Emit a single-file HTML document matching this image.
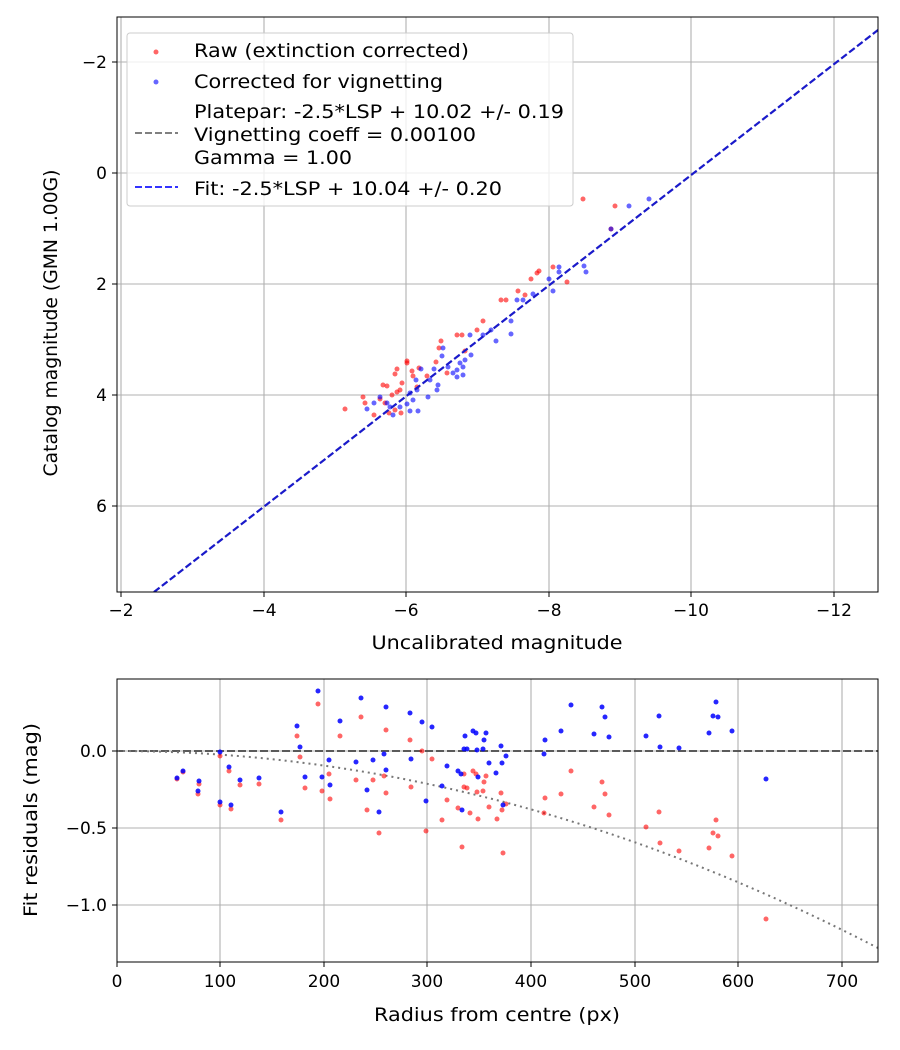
<!DOCTYPE html>
<html><head><meta charset="utf-8"><style>body{margin:0;background:#fff}svg{display:block;font-family:"DejaVu Sans","Liberation Sans",sans-serif}</style></head><body>
<svg width="900" height="1050" xmlns="http://www.w3.org/2000/svg">
<rect width="900" height="1050" fill="#fff"/>
<defs><clipPath id="c1"><rect x="117" y="17" width="761" height="575"/></clipPath><clipPath id="c2"><rect x="117" y="679" width="761" height="283"/></clipPath></defs>
<g stroke="#b0b0b0" stroke-width="1.1">
<line x1="121" y1="17" x2="121" y2="592"/><line x1="264" y1="17" x2="264" y2="592"/><line x1="406" y1="17" x2="406" y2="592"/><line x1="549" y1="17" x2="549" y2="592"/><line x1="691" y1="17" x2="691" y2="592"/><line x1="834" y1="17" x2="834" y2="592"/>
<line x1="117" y1="62" x2="878" y2="62"/><line x1="117" y1="173" x2="878" y2="173"/><line x1="117" y1="284" x2="878" y2="284"/><line x1="117" y1="395" x2="878" y2="395"/><line x1="117" y1="506" x2="878" y2="506"/>
<line x1="220" y1="679" x2="220" y2="962"/><line x1="324" y1="679" x2="324" y2="962"/><line x1="427" y1="679" x2="427" y2="962"/><line x1="531" y1="679" x2="531" y2="962"/><line x1="635" y1="679" x2="635" y2="962"/><line x1="738" y1="679" x2="738" y2="962"/><line x1="842" y1="679" x2="842" y2="962"/>
<line x1="117" y1="751" x2="878" y2="751"/><line x1="117" y1="828" x2="878" y2="828"/><line x1="117" y1="905" x2="878" y2="905"/>
</g>
<g clip-path="url(#c1)">
<g fill="#ff0000" fill-opacity="0.6">
<circle cx="553" cy="267" r="2.5"/><circle cx="539" cy="271" r="2.5"/><circle cx="537" cy="273" r="2.5"/><circle cx="531" cy="279" r="2.5"/><circle cx="525" cy="295" r="2.5"/><circle cx="518" cy="291" r="2.5"/><circle cx="506" cy="300" r="2.5"/><circle cx="501" cy="300" r="2.5"/><circle cx="483" cy="321" r="2.5"/><circle cx="477" cy="330" r="2.5"/><circle cx="462" cy="335" r="2.5"/><circle cx="457" cy="335" r="2.5"/><circle cx="441" cy="341" r="2.5"/><circle cx="439" cy="348" r="2.5"/><circle cx="465" cy="351" r="2.5"/><circle cx="436" cy="362" r="2.5"/><circle cx="407" cy="361" r="2.5"/><circle cx="407" cy="363" r="2.5"/><circle cx="397" cy="369" r="2.5"/><circle cx="395" cy="374" r="2.5"/><circle cx="412" cy="371" r="2.5"/><circle cx="419" cy="368" r="2.5"/><circle cx="413" cy="376" r="2.5"/><circle cx="427" cy="376" r="2.5"/><circle cx="402" cy="383" r="2.5"/><circle cx="383" cy="385" r="2.5"/><circle cx="387" cy="386" r="2.5"/><circle cx="400" cy="390" r="2.5"/><circle cx="397" cy="392" r="2.5"/><circle cx="392" cy="395" r="2.5"/><circle cx="363" cy="397" r="2.5"/><circle cx="365" cy="403" r="2.5"/><circle cx="345" cy="409" r="2.5"/><circle cx="374" cy="415" r="2.5"/><circle cx="385" cy="403" r="2.5"/><circle cx="395" cy="410" r="2.5"/><circle cx="401" cy="413" r="2.5"/><circle cx="389" cy="413" r="2.5"/><circle cx="380" cy="399" r="2.5"/><circle cx="417" cy="387" r="2.5"/><circle cx="447" cy="373" r="2.5"/><circle cx="583" cy="199" r="2.5"/><circle cx="615" cy="206" r="2.5"/><circle cx="611" cy="229" r="2.5"/><circle cx="567" cy="282" r="2.5"/>
</g>
<g fill="#0000ff" fill-opacity="0.6">
<circle cx="559" cy="267" r="2.5"/><circle cx="559" cy="272" r="2.5"/><circle cx="549" cy="279" r="2.5"/><circle cx="553" cy="291" r="2.5"/><circle cx="533" cy="294" r="2.5"/><circle cx="523" cy="300" r="2.5"/><circle cx="517" cy="300" r="2.5"/><circle cx="511" cy="321" r="2.5"/><circle cx="511" cy="334" r="2.5"/><circle cx="496" cy="341" r="2.5"/><circle cx="491" cy="330" r="2.5"/><circle cx="483" cy="335" r="2.5"/><circle cx="470" cy="335" r="2.5"/><circle cx="443" cy="348" r="2.5"/><circle cx="442" cy="356" r="2.5"/><circle cx="471" cy="355" r="2.5"/><circle cx="465" cy="360" r="2.5"/><circle cx="460" cy="363" r="2.5"/><circle cx="463" cy="367" r="2.5"/><circle cx="457" cy="370" r="2.5"/><circle cx="453" cy="373" r="2.5"/><circle cx="463" cy="375" r="2.5"/><circle cx="457" cy="377" r="2.5"/><circle cx="448" cy="367" r="2.5"/><circle cx="434" cy="369" r="2.5"/><circle cx="421" cy="369" r="2.5"/><circle cx="416" cy="380" r="2.5"/><circle cx="430" cy="380" r="2.5"/><circle cx="438" cy="385" r="2.5"/><circle cx="437" cy="390" r="2.5"/><circle cx="428" cy="397" r="2.5"/><circle cx="417" cy="390" r="2.5"/><circle cx="410" cy="393" r="2.5"/><circle cx="413" cy="400" r="2.5"/><circle cx="407" cy="404" r="2.5"/><circle cx="400" cy="407" r="2.5"/><circle cx="393" cy="415" r="2.5"/><circle cx="410" cy="411" r="2.5"/><circle cx="418" cy="411" r="2.5"/><circle cx="387" cy="403" r="2.5"/><circle cx="380" cy="397" r="2.5"/><circle cx="374" cy="403" r="2.5"/><circle cx="367" cy="409" r="2.5"/><circle cx="390" cy="407" r="2.5"/><circle cx="649" cy="199" r="2.5"/><circle cx="629" cy="206" r="2.5"/><circle cx="611" cy="229" r="2.5"/><circle cx="584" cy="266" r="2.5"/><circle cx="586" cy="272" r="2.5"/>
</g>
<line x1="154" y1="592" x2="878" y2="30" stroke="#808080" stroke-width="2" stroke-dasharray="7,3"/>
<line x1="154" y1="592" x2="878" y2="30" stroke="#0000dd" stroke-opacity="0.8" stroke-width="2.2" stroke-dasharray="7,3"/>
</g>
<rect x="117" y="17" width="761" height="575" fill="none" stroke="#000" stroke-width="1"/>
<rect x="127" y="33" width="446" height="173" rx="3" fill="#fff" fill-opacity="0.8" stroke="#ccc"/>
<circle cx="156" cy="52" r="2.5" fill="#ff0000" fill-opacity="0.6"/>
<circle cx="156" cy="82" r="2.5" fill="#0000ff" fill-opacity="0.6"/>
<line x1="135" y1="133" x2="178" y2="133" stroke="#808080" stroke-width="2" stroke-dasharray="7,3"/>
<line x1="135" y1="187" x2="178" y2="187" stroke="#3333ff" stroke-width="2" stroke-dasharray="7,3"/>
<g font-size="19" fill="#000" lengthAdjust="spacingAndGlyphs">
<text x="194" y="57" textLength="275" lengthAdjust="spacingAndGlyphs">Raw (extinction corrected)</text>
<text x="194" y="88" textLength="249" lengthAdjust="spacingAndGlyphs">Corrected for vignetting</text>
<text x="194" y="118" textLength="370" lengthAdjust="spacingAndGlyphs">Platepar: -2.5*LSP + 10.02 +/- 0.19</text>
<text x="194" y="141" textLength="282" lengthAdjust="spacingAndGlyphs">Vignetting coeff = 0.00100</text>
<text x="194" y="164" textLength="158" lengthAdjust="spacingAndGlyphs">Gamma = 1.00</text>
<text x="194" y="195" textLength="308" lengthAdjust="spacingAndGlyphs">Fit: -2.5*LSP + 10.04 +/- 0.20</text>
</g>
<g stroke="#000"><line x1="121" y1="592" x2="121" y2="597"/><line x1="264" y1="592" x2="264" y2="597"/><line x1="406" y1="592" x2="406" y2="597"/><line x1="549" y1="592" x2="549" y2="597"/><line x1="691" y1="592" x2="691" y2="597"/><line x1="834" y1="592" x2="834" y2="597"/>
<line x1="112" y1="62" x2="117" y2="62"/><line x1="112" y1="173" x2="117" y2="173"/><line x1="112" y1="284" x2="117" y2="284"/><line x1="112" y1="395" x2="117" y2="395"/><line x1="112" y1="506" x2="117" y2="506"/></g>
<g font-size="17" fill="#000" text-anchor="middle">
<text x="121" y="616">−2</text><text x="264" y="616">−4</text><text x="406" y="616">−6</text><text x="549" y="616">−8</text><text x="691" y="616">−10</text><text x="834" y="616">−12</text>
</g>
<g font-size="19" fill="#000" text-anchor="middle">
<text x="497" y="649" textLength="251" lengthAdjust="spacingAndGlyphs">Uncalibrated magnitude</text>
<text transform="translate(57,323) rotate(-90)" textLength="307" lengthAdjust="spacingAndGlyphs">Catalog magnitude (GMN 1.00G)</text>
</g>
<g font-size="17" fill="#000" text-anchor="end">
<text x="107" y="68">−2</text><text x="107" y="179">0</text><text x="107" y="290">2</text><text x="107" y="401">4</text><text x="107" y="512">6</text>
</g>
<!-- bottom -->
<g clip-path="url(#c2)">
<line x1="117" y1="751" x2="878" y2="751" stroke="#444" stroke-width="2" stroke-dasharray="8,3" stroke-opacity="0.85"/>
<path d="M117,751 Q497,751 878,948" fill="none" stroke="#777" stroke-width="2" stroke-dasharray="2,4"/>
<g fill="#ff0000" fill-opacity="0.6">
<circle cx="318" cy="704" r="2.5"/><circle cx="361" cy="717" r="2.5"/><circle cx="386" cy="730" r="2.5"/><circle cx="410" cy="740" r="2.5"/><circle cx="340" cy="736" r="2.5"/><circle cx="297" cy="736" r="2.5"/><circle cx="300" cy="757" r="2.5"/><circle cx="220" cy="756" r="2.5"/><circle cx="422" cy="751" r="2.5"/><circle cx="432" cy="759" r="2.5"/><circle cx="183" cy="772" r="2.5"/><circle cx="177" cy="779" r="2.5"/><circle cx="199" cy="784" r="2.5"/><circle cx="198" cy="794" r="2.5"/><circle cx="229" cy="771" r="2.5"/><circle cx="240" cy="785" r="2.5"/><circle cx="259" cy="784" r="2.5"/><circle cx="305" cy="788" r="2.5"/><circle cx="322" cy="791" r="2.5"/><circle cx="329" cy="774" r="2.5"/><circle cx="330" cy="799" r="2.5"/><circle cx="356" cy="780" r="2.5"/><circle cx="373" cy="780" r="2.5"/><circle cx="384" cy="776" r="2.5"/><circle cx="386" cy="793" r="2.5"/><circle cx="411" cy="787" r="2.5"/><circle cx="367" cy="810" r="2.5"/><circle cx="220" cy="805" r="2.5"/><circle cx="231" cy="809" r="2.5"/><circle cx="281" cy="820" r="2.5"/><circle cx="379" cy="833" r="2.5"/><circle cx="426" cy="831" r="2.5"/><circle cx="447" cy="800" r="2.5"/><circle cx="442" cy="820" r="2.5"/><circle cx="458" cy="808" r="2.5"/><circle cx="462" cy="847" r="2.5"/><circle cx="464" cy="774" r="2.5"/><circle cx="473" cy="771" r="2.5"/><circle cx="476" cy="774" r="2.5"/><circle cx="486" cy="776" r="2.5"/><circle cx="484" cy="782" r="2.5"/><circle cx="464" cy="787" r="2.5"/><circle cx="467" cy="788" r="2.5"/><circle cx="477" cy="792" r="2.5"/><circle cx="483" cy="791" r="2.5"/><circle cx="470" cy="813" r="2.5"/><circle cx="478" cy="819" r="2.5"/><circle cx="489" cy="807" r="2.5"/><circle cx="497" cy="819" r="2.5"/>
<circle cx="501" cy="793" r="2.5"/><circle cx="502" cy="810" r="2.5"/><circle cx="506" cy="804" r="2.5"/><circle cx="503" cy="853" r="2.5"/><circle cx="545" cy="798" r="2.5"/><circle cx="544" cy="813" r="2.5"/><circle cx="561" cy="794" r="2.5"/><circle cx="571" cy="771" r="2.5"/><circle cx="594" cy="807" r="2.5"/><circle cx="602" cy="782" r="2.5"/><circle cx="605" cy="794" r="2.5"/><circle cx="609" cy="815" r="2.5"/><circle cx="646" cy="827" r="2.5"/><circle cx="659" cy="812" r="2.5"/><circle cx="660" cy="843" r="2.5"/><circle cx="679" cy="851" r="2.5"/><circle cx="709" cy="848" r="2.5"/><circle cx="716" cy="820" r="2.5"/><circle cx="713" cy="833" r="2.5"/><circle cx="718" cy="836" r="2.5"/><circle cx="732" cy="856" r="2.5"/><circle cx="766" cy="919" r="2.5"/>
</g>
<g fill="#0000ff" fill-opacity="0.85">
<circle cx="318" cy="691" r="2.5"/><circle cx="361" cy="698" r="2.5"/><circle cx="386" cy="707" r="2.5"/><circle cx="410" cy="713" r="2.5"/><circle cx="422" cy="722" r="2.5"/><circle cx="432" cy="727" r="2.5"/><circle cx="340" cy="721" r="2.5"/><circle cx="297" cy="726" r="2.5"/><circle cx="300" cy="747" r="2.5"/><circle cx="220" cy="752" r="2.5"/><circle cx="329" cy="760" r="2.5"/><circle cx="356" cy="762" r="2.5"/><circle cx="373" cy="760" r="2.5"/><circle cx="384" cy="754" r="2.5"/><circle cx="411" cy="759" r="2.5"/><circle cx="447" cy="766" r="2.5"/><circle cx="458" cy="771" r="2.5"/><circle cx="461" cy="774" r="2.5"/><circle cx="478" cy="777" r="2.5"/><circle cx="465" cy="736" r="2.5"/><circle cx="473" cy="731" r="2.5"/><circle cx="476" cy="733" r="2.5"/><circle cx="486" cy="733" r="2.5"/><circle cx="484" cy="740" r="2.5"/><circle cx="464" cy="749" r="2.5"/><circle cx="467" cy="749" r="2.5"/><circle cx="477" cy="750" r="2.5"/><circle cx="483" cy="749" r="2.5"/><circle cx="489" cy="763" r="2.5"/><circle cx="496" cy="773" r="2.5"/><circle cx="442" cy="786" r="2.5"/><circle cx="386" cy="770" r="2.5"/><circle cx="183" cy="771" r="2.5"/><circle cx="177" cy="778" r="2.5"/><circle cx="199" cy="781" r="2.5"/><circle cx="198" cy="791" r="2.5"/><circle cx="229" cy="767" r="2.5"/><circle cx="240" cy="780" r="2.5"/><circle cx="259" cy="778" r="2.5"/><circle cx="305" cy="777" r="2.5"/><circle cx="322" cy="777" r="2.5"/><circle cx="330" cy="785" r="2.5"/><circle cx="367" cy="790" r="2.5"/><circle cx="220" cy="802" r="2.5"/><circle cx="231" cy="805" r="2.5"/><circle cx="281" cy="812" r="2.5"/><circle cx="379" cy="812" r="2.5"/><circle cx="426" cy="801" r="2.5"/><circle cx="462" cy="810" r="2.5"/>
<circle cx="501" cy="746" r="2.5"/><circle cx="506" cy="756" r="2.5"/><circle cx="502" cy="763" r="2.5"/><circle cx="503" cy="805" r="2.5"/><circle cx="545" cy="740" r="2.5"/><circle cx="544" cy="754" r="2.5"/><circle cx="561" cy="731" r="2.5"/><circle cx="571" cy="705" r="2.5"/><circle cx="594" cy="734" r="2.5"/><circle cx="602" cy="707" r="2.5"/><circle cx="605" cy="717" r="2.5"/><circle cx="609" cy="737" r="2.5"/><circle cx="646" cy="736" r="2.5"/><circle cx="659" cy="716" r="2.5"/><circle cx="660" cy="747" r="2.5"/><circle cx="679" cy="748" r="2.5"/><circle cx="709" cy="733" r="2.5"/><circle cx="716" cy="702" r="2.5"/><circle cx="713" cy="716" r="2.5"/><circle cx="718" cy="717" r="2.5"/><circle cx="732" cy="731" r="2.5"/><circle cx="766" cy="779" r="2.5"/>
</g>
</g>
<rect x="117" y="679" width="761" height="283" fill="none" stroke="#000" stroke-width="1"/>
<g stroke="#000"><line x1="117" y1="962" x2="117" y2="967"/><line x1="220" y1="962" x2="220" y2="967"/><line x1="324" y1="962" x2="324" y2="967"/><line x1="427" y1="962" x2="427" y2="967"/><line x1="531" y1="962" x2="531" y2="967"/><line x1="635" y1="962" x2="635" y2="967"/><line x1="738" y1="962" x2="738" y2="967"/><line x1="842" y1="962" x2="842" y2="967"/>
<line x1="112" y1="751" x2="117" y2="751"/><line x1="112" y1="828" x2="117" y2="828"/><line x1="112" y1="905" x2="117" y2="905"/></g>
<g font-size="17" fill="#000" text-anchor="middle">
<text x="117" y="987">0</text><text x="220" y="987">100</text><text x="324" y="987">200</text><text x="427" y="987">300</text><text x="531" y="987">400</text><text x="635" y="987">500</text><text x="738" y="987">600</text><text x="842" y="987">700</text>
</g>
<g font-size="19" fill="#000" text-anchor="middle">
<text x="497" y="1021" textLength="246" lengthAdjust="spacingAndGlyphs">Radius from centre (px)</text>
<text transform="translate(37,820) rotate(-90)" textLength="194" lengthAdjust="spacingAndGlyphs">Fit residuals (mag)</text>
</g>
<g font-size="17" fill="#000" text-anchor="end">
<text x="107" y="757">0.0</text><text x="107" y="834">−0.5</text><text x="107" y="911">−1.0</text>
</g>
</svg>
</body></html>
